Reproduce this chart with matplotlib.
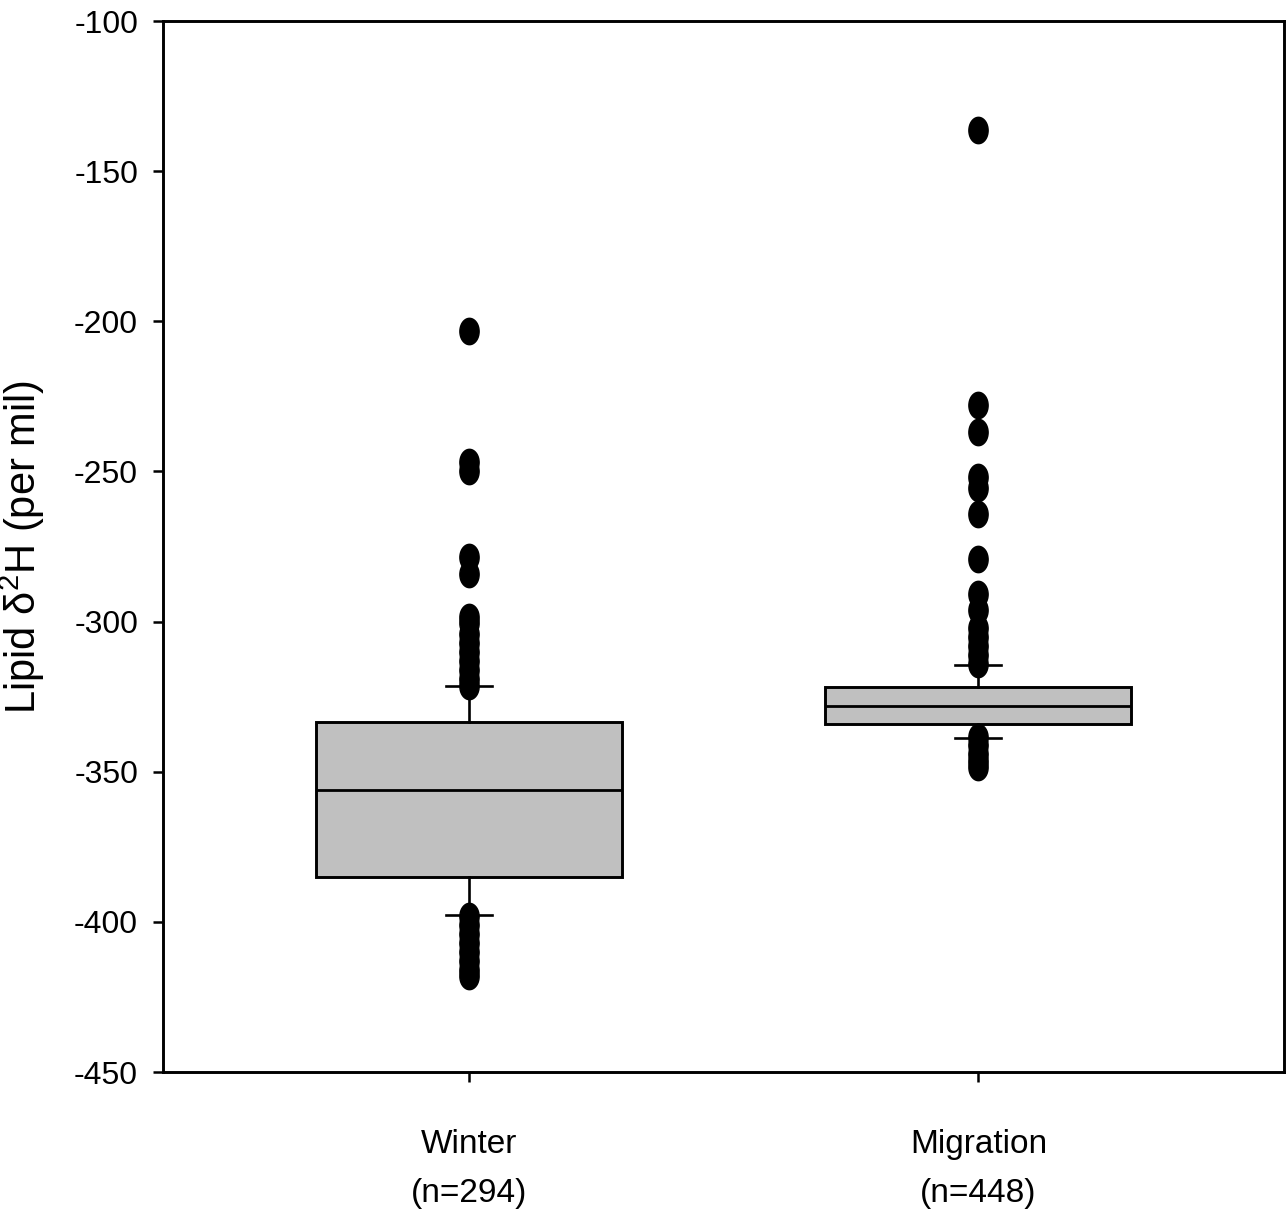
import numpy as np
import matplotlib
matplotlib.use('Agg')
import matplotlib.pyplot as plt
from matplotlib.path import Path

plt.rcParams['mathtext.fontset'] = 'custom'
plt.rcParams['mathtext.rm'] = 'Liberation Sans'
plt.rcParams['mathtext.default'] = 'regular'
plt.rcParams['axes.unicode_minus'] = False
plt.rcParams['font.family'] = ['Liberation Sans', 'DejaVu Sans']

# Data
groups = ['Winter\n(n=294)', 'Migration\n(n=448)']
q1 = [-385.1, -334.2]
med = [-356.1, -328.0]
q3 = [-333.4, -321.7]
whislo = [-397.7, -338.9]
whishi = [-321.4, -314.5]
winter_fliers = [-203.2, -247.0, -250.0, -278.5, -284.0, -298.5, -300.5,
                 -304.0, -307.0, -310.0, -313.0, -316.0, -319.0, -321.5,
                 -398.0, -401.0, -404.0, -407.0, -410.0, -413.0, -416.0,
                 -418.0]
migration_fliers = [-136.3, -227.8, -237.0, -252.0, -255.5, -264.1, -279.1,
                    -290.7, -296.3, -302.0, -305.0, -308.0, -311.0, -314.0,
                    -338.5, -341.0, -344.0, -346.5, -348.5]
fliers = [winter_fliers, migration_fliers]

# slightly tall ellipse marker, as in the original
t = np.linspace(0, 2 * np.pi, 60)
ellipse = Path(np.column_stack([0.73 * np.cos(t), np.sin(t)]), closed=True)

stats = []
for i in range(len(groups)):
    stats.append({'med': med[i], 'q1': q1[i], 'q3': q3[i],
                  'whislo': whislo[i], 'whishi': whishi[i],
                  'fliers': fliers[i], 'label': groups[i]})

fig = plt.figure(figsize=(12.87, 12.21), dpi=100)
ax = fig.add_axes([0.1267, 0.122, 0.871, 0.8608])

ax.bxp(stats, positions=[1, 2], widths=0.6, capwidths=0.09,
       patch_artist=True, showfliers=True,
       boxprops=dict(facecolor='#c0c0c0', edgecolor='black', linewidth=2.1),
       medianprops=dict(color='black', linewidth=2.0),
       whiskerprops=dict(color='black', linewidth=1.9),
       capprops=dict(color='black', linewidth=1.9),
       flierprops=dict(marker=ellipse, markersize=19, markerfacecolor='black',
                       markeredgecolor='black', linestyle='none'))

ax.set_xlim(0.4, 2.6)
ax.set_ylim(-450, -100)
ax.set_yticks(np.arange(-450, -99, 50))

for s in ax.spines.values():
    s.set_linewidth(2.1)

ax.tick_params(axis='both', direction='out', length=7, width=1.8,
               labelsize=23)
ax.tick_params(axis='y', pad=11)
ax.tick_params(axis='x', pad=34, labelsize=24)
for lab in ax.get_xticklabels():
    lab.set_linespacing(1.75)

ax.set_ylabel('Lipid δ$^2$H (per mil)', fontsize=30)
ax.yaxis.set_label_coords(-0.1035, 0.5)

plt.savefig('out.png', dpi=100)
